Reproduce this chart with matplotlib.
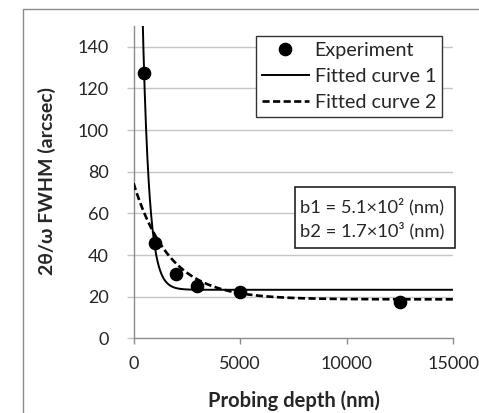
import numpy as np
import matplotlib
matplotlib.use("Agg")
import matplotlib.pyplot as plt
from matplotlib.patches import Rectangle

plt.rcParams['font.family'] = ['Lato', 'DejaVu Sans']

# Data
depth_nm = [500, 1000, 2000, 3000, 5000, 12500]
fwhm_arcsec = [127.5, 46, 31, 25, 22, 17.5]

# Fitted curves: y = base + amp * exp(-x / decay)
fit1_base, fit1_amp, fit1_decay = 23.3, 519.0, 310.0
fit2_base, fit2_amp, fit2_decay = 18.7, 55.8, 1700.0

legend_labels = ["Experiment", "Fitted curve 1", "Fitted curve 2"]
annot_lines = ["b1 = 5.1\u00d710\u00b2 (nm)", "b2 = 1.7\u00d710\u00b3 (nm)"]
xticks = [0, 5000, 10000, 15000]
yticks = [0, 20, 40, 60, 80, 100, 120, 140]

W, H = 479, 413
TXT = '#262626'
fig = plt.figure(figsize=(W / 100, H / 100), dpi=100)
ax = fig.add_axes([133.5 / W, 1 - 338.3 / H, (453.3 - 133.5) / W, (338.3 - 26) / H])

xs = np.linspace(0, 15000, 4001)
y1 = fit1_base + fit1_amp * np.exp(-xs / fit1_decay)
y2 = fit2_base + fit2_amp * np.exp(-xs / fit2_decay)

pts, = ax.plot(depth_nm, fwhm_arcsec, 'o', color='black', markersize=8.8, zorder=5,
               label=legend_labels[0])
l1, = ax.plot(xs, y1, '-', color='black', lw=1.4, zorder=4, label=legend_labels[1])
l2, = ax.plot(xs, y2, '--', color='black', lw=1.9, dashes=(2.7, 1.3), zorder=4,
              label=legend_labels[2])

ax.set_xlim(0, 15000)
ax.set_ylim(0, 150)
ax.set_xticks(xticks)
ax.set_yticks(yticks)
ax.set_xticklabels([str(t) for t in xticks])
ax.set_yticklabels([str(t) for t in yticks])

grid_c = '#c6c6c6'
axis_c = '#8c8c8c'
for t in yticks[1:]:
    ax.axhline(t, color=grid_c, lw=1.0, zorder=1)

for s in ['top', 'right']:
    ax.spines[s].set_visible(False)
for s in ['left', 'bottom']:
    ax.spines[s].set_color(axis_c)
    ax.spines[s].set_linewidth(1.0)

ax.tick_params(axis='y', direction='out', length=5, width=1.0, color=grid_c, pad=13.0,
               labelsize=13, labelcolor=TXT)
ax.tick_params(axis='x', direction='out', length=4.5, width=1.0, color=axis_c, pad=8.5,
               labelsize=13, labelcolor=TXT)

fig.text(47 / W, 1 - 181 / H, "2\u03b8/\u03c9 FWHM (arcsec)", fontsize=14, fontweight='bold',
         color=TXT, rotation=90, ha='center', va='center')
fig.text(293.5 / W, 1 - 401 / H, "Probing depth (nm)", fontsize=14.5, fontweight='bold',
         color=TXT, ha='center', va='center')

leg = ax.legend(handles=[pts, l1, l2], loc='upper left',
                bbox_to_anchor=(256 / W, 1 - 36 / H), bbox_transform=fig.transFigure,
                borderaxespad=0, fancybox=False, framealpha=1, edgecolor='#333333',
                fontsize=14.2, handlelength=2.35, handletextpad=0.3, labelspacing=0.45,
                borderpad=0.32, markerscale=1.0)
leg.get_frame().set_linewidth(1.0)
for t in leg.get_texts():
    t.set_color(TXT)

# Annotation box
fig.patches.append(Rectangle((295 / W, 1 - 248 / H), (455 - 295) / W, (248 - 187) / H,
                             transform=fig.transFigure, fill=True, facecolor='white',
                             edgecolor='#222222', lw=1.2, zorder=10))
fig.text(300 / W, 1 - 207 / H, annot_lines[0], fontsize=13.2, color=TXT,
         ha='left', va='center', zorder=11)
fig.text(300 / W, 1 - 231 / H, annot_lines[1], fontsize=13.2, color=TXT,
         ha='left', va='center', zorder=11)

# Chart area border
fig.patches.append(Rectangle((23 / W, -0.1), 2.0, 1.1 - 9 / H, transform=fig.transFigure,
                             fill=False, edgecolor='#8a8a8a', lw=1.0, zorder=0))

fig.savefig("out.png", dpi=100)
